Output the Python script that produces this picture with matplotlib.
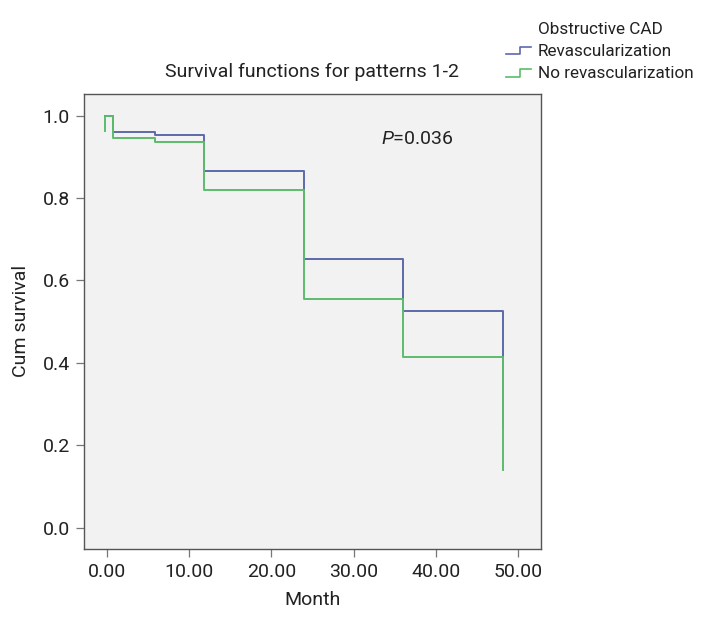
import matplotlib

matplotlib.use("Agg")
import matplotlib.pyplot as plt
from matplotlib.legend_handler import HandlerBase
from matplotlib.lines import Line2D

# Kaplan-Meier step values
REV_MONTHS = [-0.3, 0.7, 5.8, 11.8, 24.0, 36.0, 48.2]
REV_SURVIVAL = [1.0, 0.961, 0.952, 0.866, 0.652, 0.526, 0.242]

NOREV_MONTHS = [-0.3, -0.3, 0.7, 5.8, 11.8, 24.0, 36.0, 48.2]
NOREV_SURVIVAL = [0.963, 1.0, 0.945, 0.935, 0.820, 0.555, 0.413, 0.140]

X_TICKS = [0, 10, 20, 30, 40, 50]
Y_TICKS = [0.0, 0.2, 0.4, 0.6, 0.8, 1.0]

BLUE = "#5d6aaa"
GREEN = "#5cbb6c"
TEXT = "#222222"
FS = 14

plt.rcParams.update(
    {
        "font.family": ["Roboto", "DejaVu Sans"],
        "font.size": FS,
        "mathtext.fontset": "custom",
        "mathtext.it": "Roboto:italic",
        "mathtext.rm": "Roboto",
    }
)


class StepHandler(HandlerBase):
    """Small step glyph like the SPSS legend."""

    def create_artists(self, legend, orig_handle, xdescent, ydescent,
                       width, height, fontsize, trans):
        x0 = -xdescent
        y0 = -ydescent
        xs = [x0, x0 + 0.55 * width, x0 + 0.55 * width, x0 + width]
        ys = [y0 + 0.15 * height, y0 + 0.15 * height,
              y0 + 0.75 * height, y0 + 0.75 * height]
        line = Line2D(xs, ys, color=orig_handle.get_color(), linewidth=1.2)
        line.set_transform(trans)
        return [line]


fig = plt.figure(figsize=(7.05, 6.29), dpi=100)
ax = fig.add_axes([0.119, 0.127, 0.648, 0.724])
ax.set_facecolor("#f2f2f2")

(rev_line,) = ax.step(REV_MONTHS, REV_SURVIVAL, where="post",
                      color=BLUE, linewidth=1.4, zorder=3)
(norev_line,) = ax.step(NOREV_MONTHS, NOREV_SURVIVAL, where="post",
                        color=GREEN, linewidth=1.4, zorder=4)

ax.set_xlim(-2.84, 52.8)
ax.set_ylim(-0.052, 1.053)
ax.set_xticks(X_TICKS)
ax.set_xticklabels([f"{t:.2f}" for t in X_TICKS])
ax.set_yticks(Y_TICKS)
ax.set_yticklabels([f"{t:.1f}" for t in Y_TICKS])
ax.tick_params(direction="out", length=6, width=0.9, color="#777777",
               labelcolor=TEXT, labelsize=FS, pad=4)

for spine in ax.spines.values():
    spine.set_color("#555555")
    spine.set_linewidth(1.0)

ax.set_xlabel("Month", fontsize=FS, color=TEXT, labelpad=7)
ax.set_ylabel("Cum survival", fontsize=FS, color=TEXT, labelpad=9)
ax.set_title("Survival functions for patterns 1-2", fontsize=FS,
             color=TEXT, pad=12)

ax.text(33.4, 0.942, r"$\mathit{P}$=0.036", fontsize=FS, color=TEXT,
        va="center", ha="left")

blank = Line2D([], [], linestyle="none")
fig.legend(
    [blank, rev_line, norev_line],
    ["Obstructive CAD", "Revascularization", "No revascularization"],
    handler_map={rev_line: StepHandler(), norev_line: StepHandler()},
    loc="upper left",
    bbox_to_anchor=(506 / 705, 1 - 22 / 629),
    frameon=False,
    fontsize=12.3,
    handlelength=1.45,
    handletextpad=0.4,
    labelspacing=0.42,
    borderpad=0.0,
    borderaxespad=0.0,
    labelcolor=TEXT,
)

fig.savefig("out.png", dpi=100, facecolor="white")
